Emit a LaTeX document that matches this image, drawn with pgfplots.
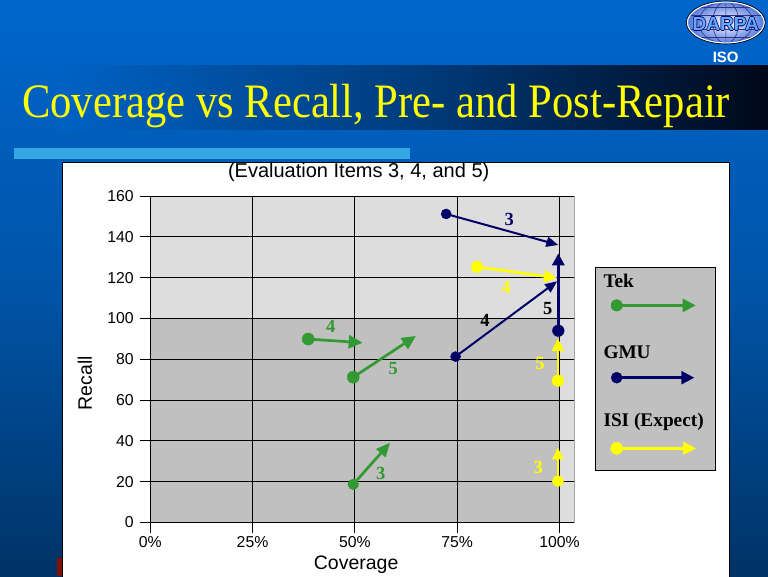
\documentclass[border=0pt]{standalone}
\usepackage{pgfplots}
\pgfplotsset{compat=1.18}
\usepackage{fontspec}
\setmainfont{Liberation Serif}
\newfontfamily\arial{Liberation Sans}
\newfontfamily\tnr{Liberation Serif}
\usetikzlibrary{arrows.meta}
\definecolor{tekgreen}{RGB}{51,153,51}
\definecolor{gmunavy}{RGB}{0,0,102}
\definecolor{isiyellow}{RGB}{255,255,0}
\definecolor{lightplot}{RGB}{221,221,221}
\definecolor{darkplot}{RGB}{192,192,192}
\definecolor{bgtop}{RGB}{0,102,204}
\definecolor{bgmid}{RGB}{0,84,168}
\definecolor{bgbot}{RGB}{0,51,102}
\definecolor{bandl}{RGB}{0,98,196}
\definecolor{bandm}{RGB}{0,60,125}
\definecolor{bandr}{RGB}{0,8,25}
\definecolor{cyanbar}{RGB}{51,168,228}
\definecolor{logoblue}{RGB}{100,170,255}
\definecolor{logoout}{RGB}{80,120,220}
\definecolor{darkred}{RGB}{128,16,0}
\begin{document}
\begin{tikzpicture}
% slide background
\shade[top color=bgtop, bottom color=bgbot, middle color=bgmid] (0,0) rectangle (768pt,-576pt);
% title band
\shade[left color=bandl, right color=bandr, middle color=bandm] (60pt,-65pt) rectangle (768pt,-129pt);
% title
\node[anchor=base west, inner sep=0, text=isiyellow] at (22pt,-117pt) {\scalebox{0.888}[1]{\tnr\fontsize{48}{48}\selectfont Coverage vs Recall, Pre- and Post-Repair}};
% cyan bar
\fill[cyanbar] (14pt,-148pt) rectangle (410pt,-159pt);
% logo
\begin{scope}[shift={(725.8pt,-22.5pt)}]
\shade[inner color=white, outer color=logoout] (0,0) ellipse (39pt and 21pt);
\begin{scope}
\clip (0,0) ellipse (39pt and 21pt);
\draw[gmunavy!80, line width=0.6pt] (0,0) ellipse (27pt and 21pt) (0,0) ellipse (13pt and 21pt) (0,21pt)--(0,-21pt)
 (-40pt,7pt)--(40pt,7pt) (-40pt,-7pt)--(40pt,-7pt) (-40pt,15pt)--(40pt,15pt) (-40pt,-15pt)--(40pt,-15pt);
\end{scope}
\draw[white, line width=1.2pt] (0,0) ellipse (38.5pt and 20.5pt);
\draw[black, line width=0.6pt] (0,0) ellipse (39.5pt and 21.5pt);
\node[font=\arial\bfseries\fontsize{19}{19}\selectfont, text=logoblue] at (0,-1.5pt) {\rlap{\hspace{0.7pt}\color{gmunavy}DARPA}\rlap{\hspace{-0.7pt}\color{gmunavy}DARPA}\rlap{\raisebox{0.7pt}{\color{gmunavy}DARPA}}\rlap{\raisebox{-0.7pt}{\color{gmunavy}DARPA}}DARPA};
\end{scope}
\node[font=\arial\bfseries\fontsize{15}{15}\selectfont, text=white] at (725.7pt,-57.3pt) {ISO};
% white panel
\fill[darkred] (57pt,-558pt) rectangle (62pt,-576pt);
\draw[black, line width=1pt, fill=white] (62pt,-162.3pt) rectangle (729.3pt,-577pt);
% main axis
\begin{axis}[
 at={(150.2pt,-522.5pt)}, anchor=south west,
 scale only axis, width=424.1pt, height=326.5pt,
 xmin=0, xmax=103.6, ymin=0, ymax=160,
 axis x line*=bottom, axis y line*=left,
 axis line style={black, line width=0.8pt, -},
 axis background/.style={fill=lightplot, path picture={\fill[darkplot] (path picture bounding box.south west) rectangle ([xshift=409.3pt,yshift=204.1pt]path picture bounding box.south west);}},
 xtick={0,25,50,75,100}, xticklabels={0\%,25\%,50\%,75\%,100\%},
 ytick={0,20,...,160},
 grid=major, major grid style={black, line width=0.8pt},
 tick align=outside, major tick length=10pt, tick style={black, line width=0.8pt},
 /pgf/number format/assume math mode=true,
 tick label style={font=\arial\fontsize{15.8}{15.8}\selectfont},
 yticklabel style={xshift=-3pt},
 xticklabel style={yshift=-0.5pt},
 xlabel={Coverage}, ylabel={Recall}, title={(Evaluation Items 3, 4, and 5)},
 label style={font=\arial\fontsize{19.5}{19.5}\selectfont},
 xlabel style={at={(axis description cs:0.4855,-0.1302)}, anchor=center},
 ylabel style={at={(axis description cs:-0.1542,0.4263)}, anchor=center},
 title style={font=\arial\fontsize{20}{20}\selectfont, at={(axis description cs:0.4916,1.0551)}, anchor=center},
 clip=false,
]
\draw[gray!70, line width=0.8pt] (rel axis cs:1,0) -- (rel axis cs:1,1);
\draw[black, line width=0.8pt] ([xshift=-10pt]rel axis cs:0,0) -- (rel axis cs:0,0);
% ISI (yellow)
\addplot[isiyellow, line width=2.7pt, -{Triangle[length=12pt,width=11pt]}, mark=*, mark indices={1}, mark size=5.5pt, mark options={line width=0.5pt}] coordinates {(99.6,20.3) (99.6,36.8)};
\addplot[isiyellow, line width=2.7pt, -{Triangle[length=13pt,width=12pt]}, mark=*, mark indices={1}, mark size=5.8pt, mark options={line width=0.5pt}] coordinates {(79.8,125.3) (99.4,119.8)};
\addplot[isiyellow, line width=2.7pt, -{Triangle[length=13pt,width=12pt]}, mark=*, mark indices={1}, mark size=5.8pt, mark options={line width=0.5pt}] coordinates {(99.6,69.5) (99.6,90.3)};
% Tek (green)
\addplot[tekgreen, line width=2.7pt, -{Triangle[length=14pt,width=12pt]}, mark=*, mark indices={1}, mark size=5.3pt, mark options={line width=0.5pt}] coordinates {(49.6,18.7) (58.6,39.1)};
\addplot[tekgreen, line width=2.7pt, -{Triangle[length=14pt,width=13pt]}, mark=*, mark indices={1}, mark size=6pt, mark options={line width=0.5pt}] coordinates {(38.6,89.9) (51.9,88.1)};
\addplot[tekgreen, line width=2.7pt, -{Triangle[length=14pt,width=13pt]}, mark=*, mark indices={1}, mark size=6pt, mark options={line width=0.5pt}] coordinates {(49.6,71.2) (64.9,91.4)};
% GMU (navy)
\addplot[gmunavy, line width=2pt, -{Triangle[length=12pt,width=10pt]}, mark=*, mark indices={1}, mark size=5pt, mark options={line width=0.5pt}] coordinates {(72.3,151.2) (99.7,136.0)};
\addplot[gmunavy, line width=2pt, -{Triangle[length=12pt,width=10pt]}, mark=*, mark indices={1}, mark size=5pt, mark options={line width=0.5pt}] coordinates {(74.6,81.3) (99.4,118.2)};
\addplot[gmunavy, line width=3pt, -{Triangle[length=12pt,width=12pt]}, mark=*, mark indices={1}, mark size=5.8pt, mark options={line width=0.5pt}] coordinates {(99.7,94.0) (99.7,131.9)};
% item labels
\begin{scope}[font=\tnr\bfseries\fontsize{18.5}{18.5}\selectfont]
\node[text=tekgreen] at (axis cs:44.1,96.3) {4};
\node[text=tekgreen] at (axis cs:59.4,75.6) {5};
\node[text=tekgreen] at (axis cs:56.3,23.8) {3};
\node[text=gmunavy] at (axis cs:87.7,148.6) {3};
\node[text=black] at (axis cs:81.8,99.2) {4};
\node[text=black] at (axis cs:97.1,105.0) {5};
\node[text=isiyellow] at (axis cs:86.9,115.3) {4};
\node[text=isiyellow] at (axis cs:95.2,77.7) {5};
\node[text=isiyellow] at (axis cs:94.8,27.0) {3};
\end{scope}
\end{axis}
% legend
\draw[black, line width=0.8pt, fill=darkplot] (595pt,-267.3pt) rectangle (715pt,-470.7pt);
\begin{axis}[
 at={(595pt,-470.7pt)}, anchor=south west,
 scale only axis, width=120pt, height=203.4pt,
 xmin=0, xmax=120, ymin=0, ymax=203.4,
 hide axis, clip=false,
]
\addplot[tekgreen, line width=2.5pt, -{Triangle[length=13pt,width=13pt]}, mark=*, mark indices={1}, mark size=5.7pt, mark options={line width=0.5pt}] coordinates {(21.7,165.3) (100.7,165.3)};
\addplot[gmunavy, line width=2.5pt, -{Triangle[length=13pt,width=13pt]}, mark=*, mark indices={1}, mark size=5.5pt, mark options={line width=0.5pt}] coordinates {(21.7,93.0) (99.3,93.0)};
\addplot[isiyellow, line width=2.5pt, -{Triangle[length=13pt,width=13pt]}, mark=*, mark indices={1}, mark size=6pt, mark options={line width=0.5pt}] coordinates {(21.7,22.4) (101.0,22.4)};
\begin{scope}[font=\tnr\bfseries\fontsize{19.3}{19.3}\selectfont]
\node[anchor=base west, inner sep=0] at (axis cs:8.3,183.0) {Tek};
\node[anchor=base west, inner sep=0] at (axis cs:8.3,112.4) {GMU};
\node[anchor=base west, inner sep=0] at (axis cs:8.3,44.0) {ISI (Expect)};
\end{scope}
\end{axis}
\pgfresetboundingbox
\useasboundingbox (0,0) rectangle (768pt,-576pt);
\end{tikzpicture}
\end{document}
